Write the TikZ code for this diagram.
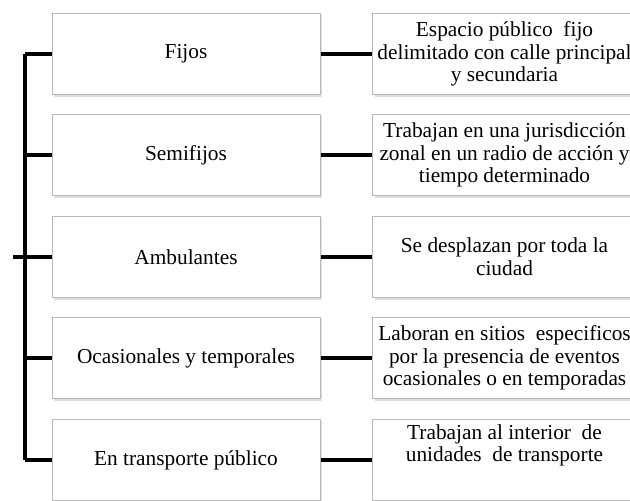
\documentclass[tikz,border=0pt]{standalone}
\usepackage{fontspec}
\setmainfont{Liberation Serif}
\usetikzlibrary{shadows}

\begin{document}
\begin{tikzpicture}[
    x=0.75pt, y=-0.75pt,
    catbox/.style={draw=gray!55, line width=0.75pt, fill=white,
                   minimum width=201pt, minimum height=61pt, align=center,
                   font=\fontsize{16}{17}\selectfont,
                   drop shadow={shadow xshift=1.5pt, shadow yshift=-1.5pt, fill=gray!50}},
    descbox/.style={catbox, minimum width=198pt, anchor=west},
    txt/.style={align=center, font=\fontsize{16}{17}\selectfont, inner sep=0pt},
    link/.style={line width=2.6pt, draw=black}
]
\useasboundingbox (0,0) rectangle (630,500);

% categorias
\node[catbox] (F) at (186,54)  {Fijos};
\node[catbox] (S) at (186,155) {Semifijos};
\node[catbox] (A) at (186,257) {Ambulantes};
\node[catbox] (O) at (186,358) {Ocasionales y temporales};
\node[catbox] (T) at (186,460) {En transporte público};

% descripciones
\node[descbox, inner xsep=2.5pt] (dF) at (372,54)  {Espacio público \ fijo\\delimitado con calle principal\\y secundaria};
\node[descbox] (dS) at (372,155) {Trabajan en una jurisdicción\\zonal en un radio de acción y\\tiempo determinado};
\node[descbox] (dA) at (372,257) {Se desplazan por toda la\\ciudad};
\node[descbox] (dO) at (372,358) {Laboran en sitios \ especificos\\por la presencia de eventos\\ocasionales o en temporadas};
\node[descbox] (dT) at (372,460) {};
\node[txt, anchor=north] (tT) at (dT.north |- 0,424) {Trabajan al interior \ de\\unidades \ de transporte};

% tronco
\coordinate (top) at (25,54);
\coordinate (bot) at (25,460);
\coordinate (stub) at (13,257);
\draw[link] (top) -- (bot);
\draw[link] (top) -- (F.west);
\draw[link] (25,155) -- (S.west);
\draw[link] (stub) -- (A.west);
\draw[link] (25,358) -- (O.west);
\draw[link] (bot) -- (T.west);

% enlaces
\draw[link] (F) -- (dF);
\draw[link] (S) -- (dS);
\draw[link] (A) -- (dA);
\draw[link] (O) -- (dO);
\draw[link] (T) -- (dT);

\end{tikzpicture}
\end{document}
